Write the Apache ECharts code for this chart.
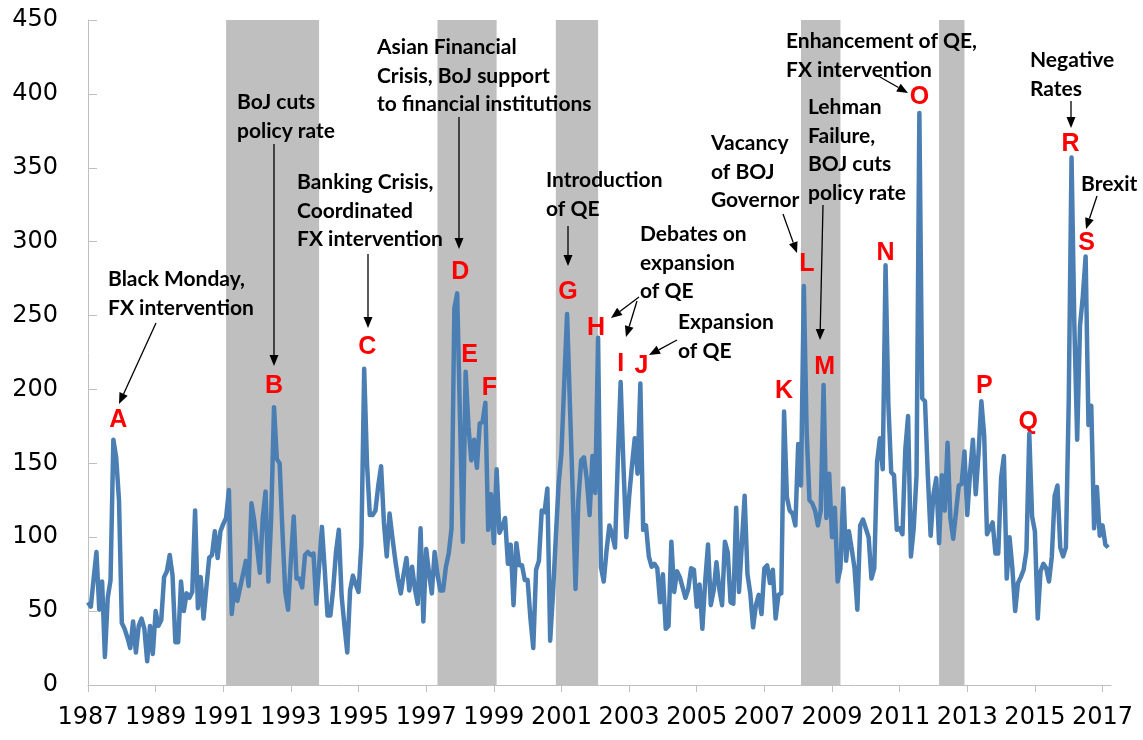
<!DOCTYPE html>
<html>
<head>
<meta charset="utf-8">
<script src="https://cdn.jsdelivr.net/npm/echarts@6/dist/echarts.min.js"></script>
<style>
  html, body { margin: 0; padding: 0; background: #fff; }
  #main { width: 1143px; height: 740px; }
</style>
</head>
<body>
<div id="main"></div>
<script>
// monthly index, Jan 1987 .. Mar 2017
var startYear = 1987;
var monthlyIndex = [
  56, 53, 72, 90, 51, 70, 19, 59, 71, 166, 154, 125,        // 1987
  42, 38, 32, 25, 43, 22, 40, 45, 38, 16, 40, 21,           // 1988
  50, 40, 44, 73, 77, 88, 74, 29, 29, 70, 50, 62,           // 1989
  59, 63, 118, 52, 73, 45, 66, 86, 88, 104, 86, 104,        // 1990
  109, 113, 132, 48, 68, 57, 66, 75, 84, 67, 123, 111,      // 1991
  93, 76, 113, 131, 70, 113, 188, 153, 150, 104, 63, 51,    // 1992
  85, 114, 72, 72, 66, 88, 90, 88, 89, 55, 80, 107,         // 1993
  78, 47, 47, 65, 90, 105, 60, 40, 22, 64, 74, 68,          // 1994
  63, 95, 214, 150, 115, 115, 118, 135, 148, 110, 87, 116,  // 1995
  100, 85, 72, 62, 75, 86, 64, 80, 65, 55, 106, 43,         // 1996
  92, 76, 62, 90, 75, 64, 64, 80, 89, 106, 255, 265,        // 1997
  180, 97, 212, 175, 152, 166, 147, 177, 178, 191, 105, 129,// 1998
  96, 146, 103, 107, 113, 82, 95, 54, 96, 81, 81, 71,       // 1999
  71, 45, 25, 78, 84, 118, 117, 133, 30, 62, 100, 136,      // 2000
  157, 205, 251, 190, 130, 65, 125, 152, 154, 139, 115, 155,// 2001
  130, 235, 80, 70, 91, 108, 102, 93, 152, 205, 148, 100,   // 2002
  127, 148, 167, 143, 204, 105, 108, 87, 80, 82, 79, 56,    // 2003
  75, 38, 40, 97, 63, 77, 73, 66, 59, 65, 79, 78,           // 2004
  53, 68, 38, 70, 95, 54, 64, 83, 65, 54, 97, 90,           // 2005
  56, 55, 120, 63, 95, 128, 75, 62, 39, 54, 61, 48,         // 2006
  79, 81, 69, 78, 45, 61, 62, 185, 127, 118, 116, 108,      // 2007
  163, 135, 270, 172, 125, 123, 118, 108, 118, 203, 113, 143,// 2008
  100, 120, 70, 79, 133, 84, 104, 92, 79, 51, 108, 112,     // 2009
  106, 100, 72, 79, 151, 167, 146, 284, 190, 144, 142, 105, // 2010
  106, 102, 159, 182, 87, 106, 142, 387, 194, 192, 142, 101,// 2011
  129, 140, 96, 142, 118, 164, 113, 99, 117, 135, 136, 158, // 2012
  115, 144, 166, 129, 157, 192, 169, 102, 106, 110, 89, 89, // 2013
  140, 155, 72, 100, 79, 50, 69, 73, 78, 91, 170, 114,      // 2014
  104, 45, 77, 82, 79, 70, 87, 128, 135, 93, 87, 93,        // 2015
  192, 357, 243, 166, 243, 263, 290, 176, 189, 106, 134, 101,// 2016
  108, 95, 93                                               // 2017
];
var yearTicks = [1987, 1989, 1991, 1993, 1995, 1997, 1999, 2001, 2003, 2005, 2007, 2009, 2011, 2013, 2015, 2017];
// shaded periods [start, end) as year-month
var recessions = [
  ['1991-02', '1993-11'],
  ['1997-05', '1999-02'],
  ['2000-11', '2002-02'],
  ['2008-02', '2009-04'],
  ['2012-03', '2012-12']
];
// peak letters and the month they mark
var peakLetters = ['A','B','C','D','E','F','G','H','I','J','K','L','M','N','O','P','Q','R','S'];
var peakMonths = ['1987-10','1992-07','1995-03','1997-12','1998-03','1998-10','2001-03','2002-02','2002-10','2003-05',
                  '2007-08','2008-03','2008-10','2010-08','2011-08','2013-06','2014-11','2016-02','2016-07'];

function monthIdx(s) {
  var p = s.split('-');
  return (+p[0] - startYear) * 12 + (+p[1] - 1);
}

// label nudges (px) for the red letters
var letterOffsets = [[5,-20],[0,-21],[3,-22],[3,-21],[4,-17],[4,-15],[1,-22],[-2,-10],[0,-18],[1,-17],
                     [0,-21],[3,-22],[1,-18],[0,-12],[0,-16],[3,-15],[-1,-12],[-1,-13],[1,-13]];

// annotation text boxes: [left, top, text]
var notes = [
  [108, 265, 'Black Monday,\nFX intervention'],
  [237, 88, 'BoJ cuts\npolicy rate'],
  [297, 168, 'Banking Crisis,\nCoordinated\nFX intervention'],
  [377, 33, 'Asian Financial\nCrisis, BoJ support\nto financial institutions'],
  [546, 166, 'Introduction\nof QE'],
  [640, 220, 'Debates on\nexpansion\nof QE'],
  [678, 308, 'Expansion\nof QE'],
  [711, 129, 'Vacancy\nof BOJ\nGovernor'],
  [808, 93, 'Lehman\nFailure,\nBOJ cuts\npolicy rate'],
  [786, 27, 'Enhancement of QE,\nFX intervention'],
  [1030, 46, 'Negative\nRates'],
  [1081, 170, 'Brexit']
];
// arrows [x1, y1, x2, y2] (tail -> head)
var arrows = [
  [156, 323, 119, 404],
  [274, 144, 274, 366],
  [368, 254, 368, 328],
  [459, 117, 459, 249],
  [568, 226, 568, 266],
  [639, 297, 611, 318],
  [637, 301, 626, 337],
  [677, 340, 649, 355],
  [783, 214, 797, 253],
  [823, 205, 820, 340],
  [880, 77, 908, 93],
  [1071, 101, 1071, 128],
  [1097, 196, 1086, 229]
];

var myChart = echarts.init(document.getElementById('main'));

var seriesData = monthlyIndex.map(function (v, i) { return [i, v]; });
var tickVals = yearTicks.map(function (y) { return (y - startYear) * 12; });

var graphics = [];
notes.forEach(function (n) {
  graphics.push({
    type: 'text', x: n[0], y: n[1], z: 100,
    style: { text: n[2], font: 'bold 21px Lato', fill: '#000', lineHeight: 28.5, verticalAlign: 'top' }
  });
});
arrows.forEach(function (a) {
  var dx = a[2] - a[0], dy = a[3] - a[1];
  var len = Math.sqrt(dx * dx + dy * dy);
  var ux = dx / len, uy = dy / len;
  var hl = 11, hw = 4.5;
  var bx = a[2] - ux * hl, by = a[3] - uy * hl;
  graphics.push({
    type: 'line', z: 100,
    shape: { x1: a[0], y1: a[1], x2: bx, y2: by },
    style: { stroke: '#000', lineWidth: 1.3 }
  });
  graphics.push({
    type: 'polygon', z: 100,
    shape: { points: [[a[2], a[3]], [bx - uy * hw, by + ux * hw], [bx + uy * hw, by - ux * hw]] },
    style: { fill: '#000' }
  });
});

var option = {
  animation: false,
  backgroundColor: '#fff',
  grid: { left: 88, right: 32, top: 20, bottom: 55 },
  xAxis: {
    type: 'value',
    min: 0,
    max: 363,
    axisLine: { lineStyle: { color: '#bfbfbf', width: 1 } },
    axisTick: { show: true, length: 7, customValues: tickVals, lineStyle: { color: '#bfbfbf' } },
    axisLabel: {
      customValues: tickVals,
      margin: 21,
      fontFamily: 'DejaVu Sans', fontSize: 24, color: '#000',
      formatter: function (v) { return String(startYear + Math.round(v / 12)); }
    },
    splitLine: { show: false }
  },
  yAxis: {
    type: 'value',
    min: 0, max: 450, interval: 50,
    axisLine: { show: true, lineStyle: { color: '#bfbfbf', width: 1 } },
    axisTick: { show: true, inside: true, length: 9, lineStyle: { color: '#bfbfbf' } },
    axisLabel: { margin: 30, fontFamily: 'DejaVu Sans', fontSize: 24, color: '#000' },
    splitLine: { show: false }
  },
  series: [{
    type: 'line',
    data: seriesData,
    showSymbol: false,
    lineStyle: { color: '#4b7fb3', width: 4.5, join: 'round' },
    z: 5,
    markArea: {
      silent: true,
      itemStyle: { color: '#bfbfbf' },
      data: recessions.map(function (r) {
        return [{ xAxis: monthIdx(r[0]) }, { xAxis: monthIdx(r[1]) }];
      })
    },
    markPoint: {
      silent: true,
      symbol: 'rect',
      symbolSize: 1,
      itemStyle: { color: 'transparent' },
      label: { show: true, position: 'inside', color: '#ff0000', fontFamily: 'Liberation Sans', fontWeight: 'bold', fontSize: 25 },
      data: peakLetters.map(function (l, i) {
        var m = monthIdx(peakMonths[i]);
        return {
          coord: [m, monthlyIndex[m]],
          label: { formatter: l, offset: letterOffsets[i] }
        };
      })
    }
  }],
  graphic: graphics
};

myChart.setOption(option);
</script>
</body>
</html>
